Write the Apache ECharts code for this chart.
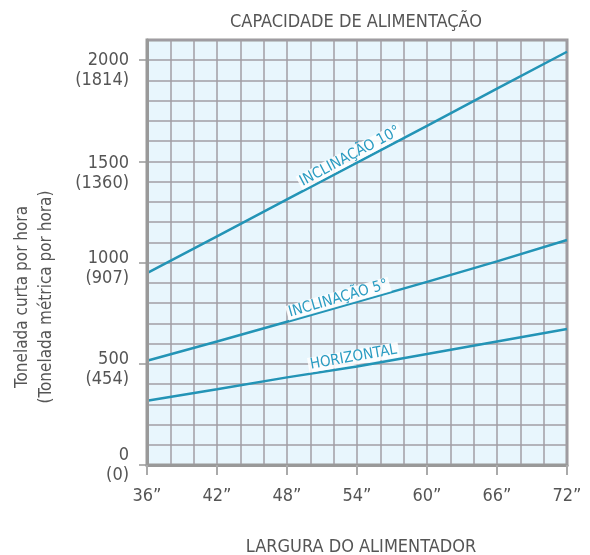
<!DOCTYPE html>
<html><head><meta charset="utf-8">
<script src="https://cdn.jsdelivr.net/npm/echarts@6/dist/echarts.min.js"></script>
<style>html,body{margin:0;padding:0;background:#fff}#c{width:590px;height:555px}</style>
</head><body><div id="c"></div>
<script>
var widths = [36, 42, 48, 54, 60, 66, 72];
var horizontal = [318, 374, 433, 487, 548, 610, 672];
var incl5 = [515, 610, 708, 806, 905, 1006, 1112];
var incl10 = [948, 1130, 1312, 1494, 1676, 1860, 2042];
var yTicks = [0, 500, 1000, 1500, 2000];
var yTickLabels = ['0', '500', '1000', '1500', '2000'];
var yTickMetric = ['(0)', '(454)', '(907)', '(1360)', '(1814)'];
var seriesNames = ['HORIZONTAL', 'INCLINAÇÃO 5°', 'INCLINAÇÃO 10°'];

var FONT = '"Liberation Sans Narrow", "DejaVu Sans Condensed", "Roboto", sans-serif';
var LINE = '#2394b6';
var TXT = '#555';
var GRIDC = '#a29ea4';
// per-label vertical nudge (spacer line heights) to mimic the reference label placement
var labelSpacer = [0, 12, 11, 23, 21];

function pairs(vals){ return widths.map(function(w,i){ return [w, vals[i]]; }); }
function lbl(name, coord, rot){
  return { data: [{ coord: coord, name: name }], symbol: 'rect', symbolSize: 1, silent: true,
    itemStyle: { color: 'rgba(0,0,0,0)' },
    label: { show: true, position: 'inside', formatter: name, rotate: rot, color: '#2a9cc2',
      fontFamily: FONT, fontSize: 15, backgroundColor: 'rgba(255,255,255,0.85)', padding: [0, 2, 0, 2] } };
}
var richY = { a: { lineHeight: 20, fontSize: 18, fontFamily: FONT, color: TXT, align: 'right' } };
labelSpacer.forEach(function(h, i){ richY['e' + i] = { lineHeight: Math.max(h, 1), height: Math.max(h, 1), fontSize: 1 }; });

var chart = echarts.init(document.getElementById('c'));
chart.setOption({
  animation: false,
  textStyle: { fontFamily: FONT },
  title: { text: 'CAPACIDADE DE ALIMENTAÇÃO', left: 351, top: 8, textAlign: 'center',
    textStyle: { fontFamily: FONT, fontSize: 18, fontWeight: 'normal', color: TXT } },
  graphic: [{ type: 'text', x: 35, y: 297, rotation: Math.PI / 2,
    style: { text: 'Tonelada curta por hora\n(Tonelada métrica por hora)', fontFamily: FONT, fontSize: 17,
      fill: TXT, align: 'center', verticalAlign: 'middle', lineHeight: 24 } }],
  grid: { left: 147, right: 23, top: 40, bottom: 90, show: true, backgroundColor: '#e8f6fd',
    borderColor: '#999', borderWidth: 3, outerBoundsMode: 'none', containLabel: false },
  xAxis: [{
    type: 'value', min: 36, max: 72, interval: 6,
    name: 'LARGURA DO ALIMENTADOR', nameLocation: 'middle', nameGap: 73,
    nameTextStyle: { fontFamily: FONT, fontSize: 18, color: TXT, padding: [0, 0, 0, 8] },
    axisLine: { show: true, lineStyle: { color: '#999', width: 3 } },
    axisTick: { show: true, length: 10, lineStyle: { color: '#aaa', width: 2 } },
    axisLabel: { formatter: function(v){ return v + '”'; }, margin: 22,
      fontFamily: FONT, fontSize: 18, color: TXT, showMinLabel: true, showMaxLabel: true },
    splitLine: { show: false }, z: 5
  }, {
    type: 'value', min: 36, max: 72, interval: 2, position: 'bottom',
    axisLine: { show: false }, axisTick: { show: false }, axisLabel: { show: false },
    splitLine: { show: true, lineStyle: { color: GRIDC, width: 1.5 } }
  }],
  yAxis: [{
    type: 'value', min: 0, max: 2100, interval: 100,
    axisLine: { show: true, lineStyle: { color: '#999', width: 3 } },
    axisTick: { show: true, customValues: yTicks, length: 8, lineStyle: { color: '#999', width: 1.5 } },
    axisLabel: { customValues: yTicks, margin: 18, fontFamily: FONT, fontSize: 18, color: TXT,
      verticalAlign: 'middle', align: 'right',
      formatter: function(v){ var i = yTicks.indexOf(v); return '{e' + i + '| }\n{a|' + yTickLabels[i] + '}\n{a|' + yTickMetric[i] + '}'; },
      rich: richY },
    splitLine: { show: false }, z: 5
  }, {
    type: 'value', min: 0, max: 2100, interval: 100, position: 'left',
    axisLine: { show: false }, axisTick: { show: false }, axisLabel: { show: false },
    splitLine: { show: true, lineStyle: { color: GRIDC, width: 1.5 } }
  }],
  series: [
    { name: seriesNames[0], type: 'line', data: pairs(horizontal), showSymbol: false, yAxisIndex: 1,
      lineStyle: { color: LINE, width: 2.5 }, markPoint: lbl(seriesNames[0], [53.7, 532], 10), z: 3 },
    { name: seriesNames[1], type: 'line', data: pairs(incl5), showSymbol: false, yAxisIndex: 1,
      lineStyle: { color: LINE, width: 2.5 }, markPoint: lbl(seriesNames[1], [52.4, 822], 16), z: 3 },
    { name: seriesNames[2], type: 'line', data: pairs(incl10), showSymbol: false, yAxisIndex: 1,
      lineStyle: { color: LINE, width: 2.5 }, markPoint: lbl(seriesNames[2], [53.4, 1525], 28), z: 3 }
  ]
});
</script></body></html>
